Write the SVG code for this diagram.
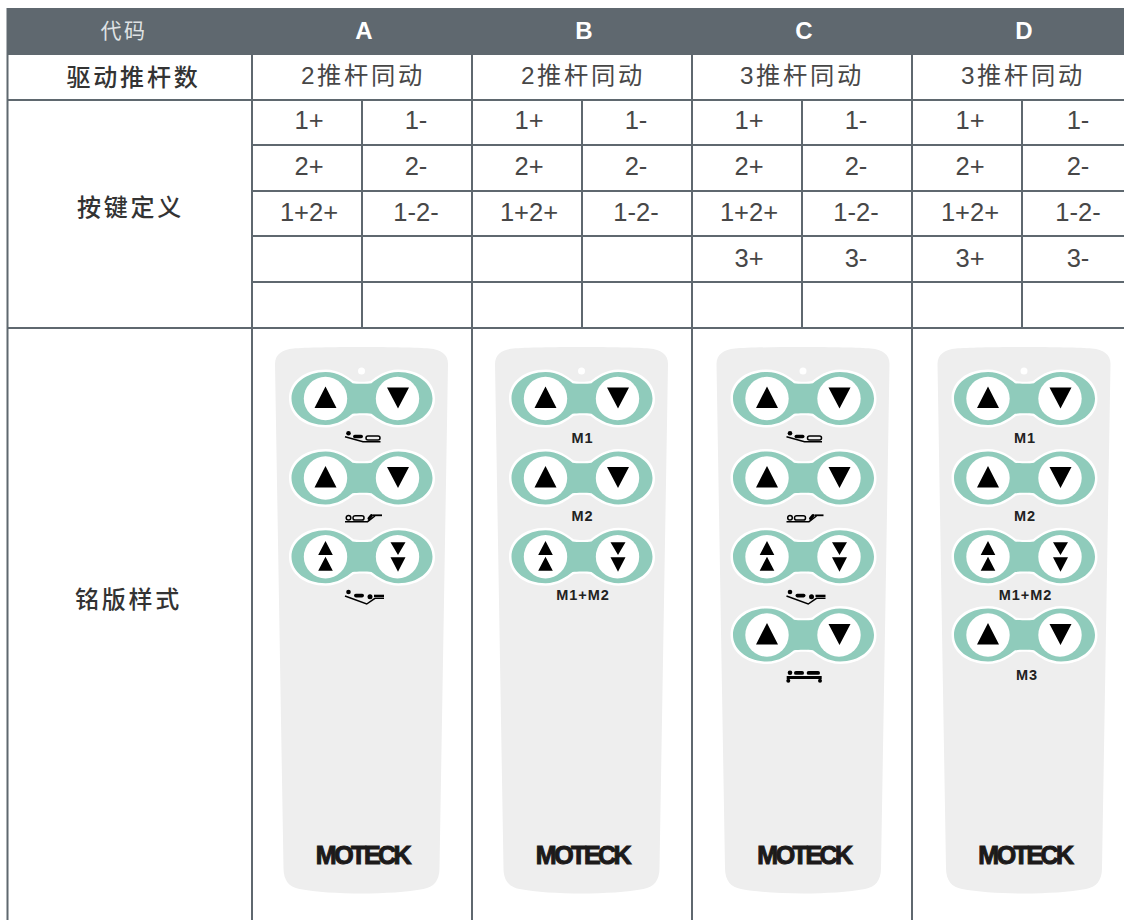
<svg xmlns="http://www.w3.org/2000/svg" width="1124" height="920" viewBox="0 0 1124 920">
<style>
text{font-family:"Liberation Sans","Noto Sans CJK SC",sans-serif;text-anchor:middle}
.g{stroke:#5f686f;stroke-width:2;fill:none}
.c{font-size:25.500px;fill:#474747}
.t{font-size:24.300px;fill:#474747;letter-spacing:2.700px}
.h{font-size:24px;font-weight:500;fill:#333;letter-spacing:2.800px;font-family:"Noto Sans CJK SC",sans-serif}
.w{font-size:24px;font-weight:bold;fill:#fff}
.m{font-size:14.500px;font-weight:bold;fill:#222;letter-spacing:1px}
.b{font-size:25px;font-weight:bold;fill:#1c1a1a;stroke:#1c1a1a;stroke-width:1;letter-spacing:-2.500px}
.k{fill:#000}
.i{stroke:#000;fill:none;stroke-width:1.500}
</style>
<defs>
<g id="blob">
<path d="M-36.500 0C-36.500-17-21-29 0-29C13-29 22-22 28-17.500C32-16.500 41-16.500 45-17.500C51-22 60-29 73-29C94-29 109.500-17 109.500 0C109.500 17 94 29 73 29C60 29 51 22 45 17.500C41 16.500 32 16.500 28 17.500C22 22 13 29 0 29C-21 29-36.500 17-36.500 0Z" fill="#fff"/>
<path d="M-34 0C-34-15-19-26.500 0-26.500C12-26.500 21-20 27-15.300C31-14.500 42-14.500 46-15.300C52-20 61-26.500 73-26.500C92-26.500 107-15 107 0C107 15 92 26.500 73 26.500C61 26.500 52 20 46 15.300C42 14.500 31 14.500 27 15.300C21 20 12 26.500 0 26.500C-19 26.500-34 15-34 0Z" fill="#8fcbbb"/>
<circle cx="0" cy="0" r="21.700" fill="#fff"/>
<circle cx="72" cy="0" r="21.700" fill="#fff"/>
</g>
<g id="pair"><use href="#blob"/><path class="k" d="M0-12L11 9.500H-11ZM72.500 10L61.500-11H83.500Z"/></g>
<g id="pair2"><use href="#blob"/><path class="k" d="M0-15.700L7.300-1.700H-7.300ZM0 0L7.300 14H-7.300ZM72.500 15L65 .6H80ZM72.500-1.700L65-14.400H80Z"/></g>
<g id="plate">
<path d="M-86.500 16C-86.500 6-79 1.500-68 .5C-45-1.500 45-1.500 68 .5C79 1.500 86.500 6 86.500 16L78 520C78 533 72 539 62 541C30 547-30 547-62 541C-72 539-78 533-78 520Z" fill="#eeeeee"/>
<circle cx="0" cy="23" r="3.500" fill="#fff"/>
<text class="b" x="1" y="516">MOTECK</text>
</g>
<g id="ic1"><circle cx="-14" cy="-2.700" r="2.300" class="k"/><rect x="-9.500" y="-1.300" width="10" height="3.600" rx="1.800" class="k"/><rect x="3.500" y="0" width="14" height="4" rx="2" class="i"/><path class="i" d="M-17.500 .7L.5 5.700H18"/></g>
<g id="ic2"><circle cx="-14" cy="2.700" r="2.300" class="i"/><rect x="-9.500" y=".7" width="11" height="4.300" rx="2.100" class="i"/><path d="M6.500 3.500L9 .5" stroke="#000" stroke-width="3" stroke-linecap="round"/><rect x="10.500" y="-.6" width="9" height="1.800" class="k"/><path class="i" d="M-17.500 6.700H5L12.500 1"/></g>
<g id="ic3"><circle cx="-14" cy="-5" r="2.300" class="k"/><rect x="-8.500" y="-3.200" width="10" height="3.600" rx="1.800" class="k"/><circle cx="7.500" cy="-.3" r="2.500" class="k"/><rect x="11.500" y="-2.300" width="10" height="2.300" class="k"/><path class="i" d="M-17.500-1L4.200 7L12.500 1.300H21.500"/></g>
<g id="ic4"><circle cx="-14" cy="-4.300" r="2.300" class="k"/><rect x="-10" y="-6" width="10" height="3.800" rx="1.900" class="k"/><rect x="2.700" y="-6" width="13.300" height="3.800" rx="1.900" class="k"/><rect x="-17.300" y="-1" width="35" height="3" class="k"/><circle cx="-15.700" cy="3.700" r="2" class="k"/><circle cx="16" cy="3.700" r="2" class="k"/></g>
</defs>
<g id="table">
<rect x="7" y="8" width="1117" height="47" fill="#5f686f"/>
<path class="g" d="M7.500 8V920M252 55V920M472 55V920M692 55V920M912 55V920M362 100V328M582 100V328M802 100V328M1022 100V328"/>
<path class="g" d="M7 100H1124M252 145H1124M252 191H1124M252 236H1124M252 282H1124M7 328H1124"/>
</g>
<g id="header">
<text x="124" y="38" style="font-size:21px;fill:#dfe2e4;letter-spacing:2.500px">代码</text>
<text class="w" x="364" y="39">A</text><text class="w" x="584" y="39">B</text><text class="w" x="804" y="39">C</text><text class="w" x="1024" y="39">D</text>
</g>
<g id="rows">
<text class="h" x="133.500" y="86">驱动推杆数</text>
<text class="h" x="130.500" y="216">按键定义</text>
<text class="h" x="128.500" y="608">铭版样式</text>
<text class="t" x="363" y="84">2推杆同动</text><text class="t" x="583" y="84">2推杆同动</text><text class="t" x="802" y="84">3推杆同动</text><text class="t" x="1023" y="84">3推杆同动</text>
<text class="c" x="309" y="128.500">1+</text><text class="c" x="416" y="128.500">1-</text><text class="c" x="529" y="128.500">1+</text><text class="c" x="636" y="128.500">1-</text><text class="c" x="749" y="128.500">1+</text><text class="c" x="856" y="128.500">1-</text><text class="c" x="970" y="128.500">1+</text><text class="c" x="1078" y="128.500">1-</text>
<text class="c" x="309" y="175">2+</text><text class="c" x="416" y="175">2-</text><text class="c" x="529" y="175">2+</text><text class="c" x="636" y="175">2-</text><text class="c" x="749" y="175">2+</text><text class="c" x="856" y="175">2-</text><text class="c" x="970" y="175">2+</text><text class="c" x="1078" y="175">2-</text>
<text class="c" x="309" y="220.500">1+2+</text><text class="c" x="416" y="220.500">1-2-</text><text class="c" x="529" y="220.500">1+2+</text><text class="c" x="636" y="220.500">1-2-</text><text class="c" x="749" y="220.500">1+2+</text><text class="c" x="856" y="220.500">1-2-</text><text class="c" x="970" y="220.500">1+2+</text><text class="c" x="1078" y="220.500">1-2-</text>
<text class="c" x="749" y="266.500">3+</text><text class="c" x="856" y="266.500">3-</text><text class="c" x="970" y="266.500">3+</text><text class="c" x="1078" y="266.500">3-</text>
</g>
<g id="remote-A" transform="translate(361.500 348)">
<use href="#plate"/>
<use href="#pair" x="-36" y="50.500"/><use href="#pair" x="-36" y="130"/><use href="#pair2" x="-36" y="208.700"/>
<use href="#ic1" x="1" y="88"/><use href="#ic2" x="1" y="167"/><use href="#ic3" x="1" y="249"/>
</g>
<g id="remote-B" transform="translate(581.500 348)">
<use href="#plate"/>
<use href="#pair" x="-36" y="50.500"/><use href="#pair" x="-36" y="130"/><use href="#pair2" x="-36" y="208.700"/>
<text class="m" x="1" y="95">M1</text><text class="m" x="1" y="173">M2</text><text class="m" x="1.500" y="252">M1+M2</text>
</g>
<g id="remote-C" transform="translate(803 348)">
<use href="#plate"/>
<use href="#pair" x="-36" y="50.500"/><use href="#pair" x="-36" y="130"/><use href="#pair2" x="-36" y="208.700"/><use href="#pair" x="-36" y="287"/>
<use href="#ic1" x="1" y="88"/><use href="#ic2" x="1" y="167"/><use href="#ic3" x="1" y="249"/><use href="#ic4" x="1" y="329"/>
</g>
<g id="remote-D" transform="translate(1024 348)">
<use href="#plate"/>
<use href="#pair" x="-36" y="50.500"/><use href="#pair" x="-36" y="130"/><use href="#pair2" x="-36" y="208.700"/><use href="#pair" x="-36" y="287"/>
<text class="m" x="1" y="95">M1</text><text class="m" x="1" y="173">M2</text><text class="m" x="1.500" y="252">M1+M2</text><text class="m" x="3" y="332">M3</text>
</g>
</svg>
